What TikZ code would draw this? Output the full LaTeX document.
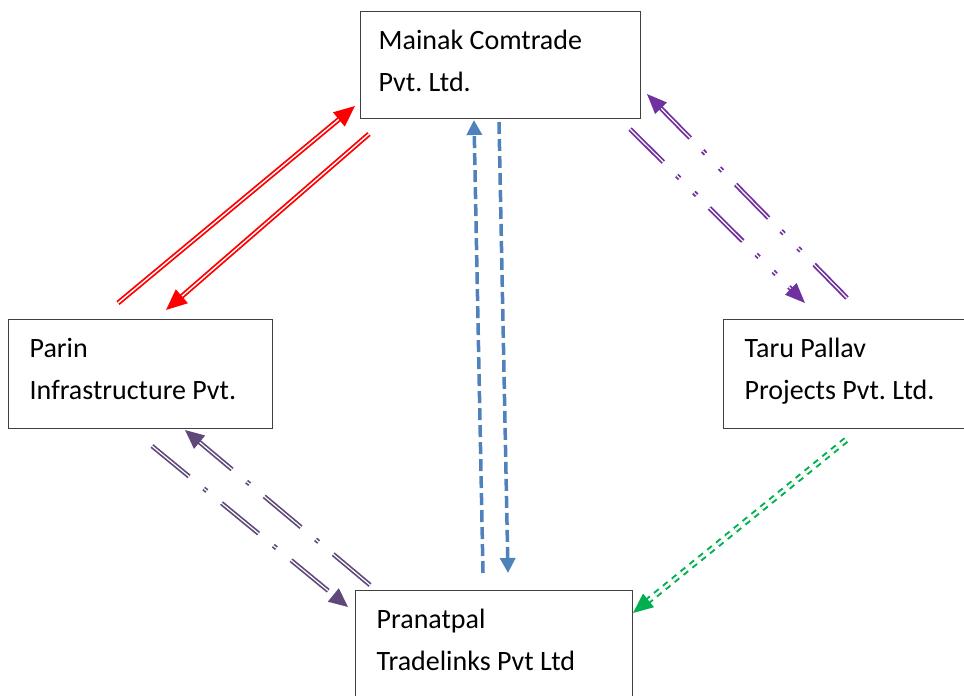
\documentclass[tikz,border=0pt]{standalone}
\usepackage{fontspec}
\setmainfont{Carlito}
\usetikzlibrary{arrows.meta}
\definecolor{linkred}{HTML}{FF0000}
\definecolor{linkplum}{HTML}{7030A0}
\definecolor{linkgrape}{HTML}{5F497A}
\definecolor{linkblue}{HTML}{4F81BD}
\definecolor{linkgreen}{HTML}{00B050}
\tikzset{
    firm/.style={draw=black!75, line width=1.3pt, anchor=north west, align=flush left,
        inner xsep=21pt, inner ysep=8.6pt, font=\fontsize{28}{42}\selectfont\frenchspacing},
    redlink/.style={draw=linkred, line width=1.8pt, double=white, double distance=1.4pt,
        -{Triangle[length=21pt,width=18pt]}},
    plumlink/.style={draw=linkplum, line width=1.8pt, double=white, double distance=1.2pt,
        dash pattern=on 47pt off 19pt on 4pt off 20pt on 4pt off 18pt,
        -{Triangle[length=20pt,width=16pt]}},
    grapelink/.style={draw=linkgrape, line width=1.7pt, double=white, double distance=1.2pt,
        dash pattern=on 48pt off 19pt on 4pt off 19pt,
        -{Triangle[length=19pt,width=17pt]}},
    bluelink/.style={draw=linkblue, line width=3.5pt, dash pattern=on 12pt off 5pt,
        -{Triangle[length=15pt,width=15pt]}},
    greenlink/.style={draw=linkgreen, line width=2pt, double=white, double distance=2.5pt,
        dash pattern=on 6pt off 5.4pt, -{Triangle[length=20pt,width=17pt]}}
}
\begin{document}
\begin{tikzpicture}[x=1pt,y=-1pt]
    \useasboundingbox (0,0) rectangle (964,696);
    % companies
    \node[firm, inner xsep=18pt, text width=244pt] (mainak) at (360,11)
        {\strut Mainak Comtrade\\Pvt. Ltd.\rule[-18.4pt]{0pt}{18.4pt}};
    \node[firm, text width=222pt] (parin) at (8,319)
        {\strut Parin\\Infrastructure Pvt.\rule[-20.4pt]{0pt}{20.4pt}};
    \node[firm, text width=218pt] (taru) at (723,319)
        {\strut Taru Pallav\\Projects Pvt. Ltd.\rule[-20.4pt]{0pt}{20.4pt}};
    \node[firm, text width=235pt] (pranatpal) at (355,590)
        {\strut Pranatpal\\Tradelinks Pvt Ltd\rule[-20.4pt]{0pt}{20.4pt}};
    % link ends
    \coordinate (pm0) at (118,303); \coordinate (pm1) at (355,106);
    \coordinate (mp0) at (369,134); \coordinate (mp1) at (166,310);
    \coordinate (tm0) at (847,298); \coordinate (tm1) at (647,94);
    \coordinate (mt0) at (630,129); \coordinate (mt1) at (805,303);
    \coordinate (rp0) at (370,585); \coordinate (rp1) at (185,430);
    \coordinate (pr0) at (152,446); \coordinate (pr1) at (348,607);
    \coordinate (rm0) at (483,573); \coordinate (rm1) at (474,120);
    \coordinate (mr0) at (499,122); \coordinate (mr1) at (508,573);
    \coordinate (tr0) at (846,440); \coordinate (tr1) at (633,613);
    % links
    \draw[redlink] (pm0) -- (pm1);
    \draw[redlink] (mp0) -- (mp1);
    \draw[plumlink] (tm0) -- (tm1);
    \draw[plumlink] (mt0) -- (mt1);
    \draw[grapelink] (rp0) -- (rp1);
    \draw[grapelink] (pr0) -- (pr1);
    \draw[bluelink] (rm0) -- (rm1);
    \draw[bluelink] (mr0) -- (mr1);
    \draw[greenlink] (tr0) -- (tr1);
\end{tikzpicture}
\end{document}
